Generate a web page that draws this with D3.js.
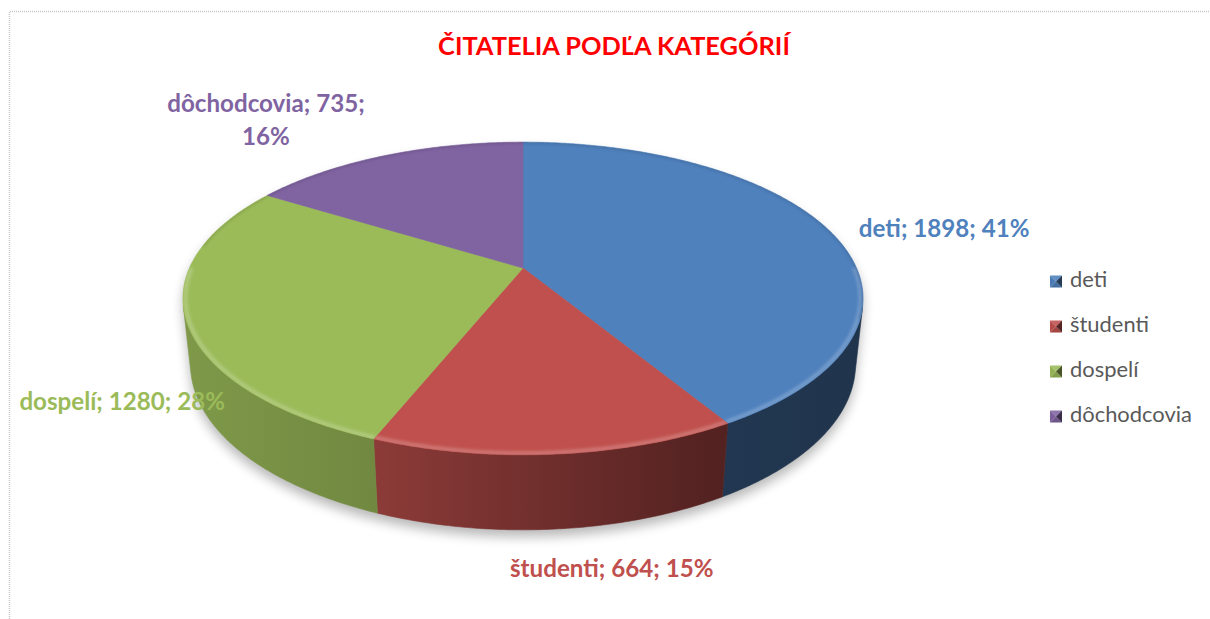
<!DOCTYPE html>
<html><head><meta charset="utf-8">
<script src="https://cdn.jsdelivr.net/npm/d3@7"></script>
<style>html,body{margin:0;padding:0;background:#fff;overflow:hidden;} svg{display:block;}</style>
</head><body>
<svg id="chart" width="1210" height="619"></svg>
<script>
// ---- data ----
const title = "ČITATELIA PODĽA KATEGÓRIÍ";
const categories = ["deti", "študenti", "dospelí", "dôchodcovia"];
const values = [1898, 664, 1280, 735];
const colors = ["#4f81bd", "#c0504d", "#9bbb59", "#8064a2"];

// ---- layout ----
const W = 1210, H = 619;
const svg = d3.select("#chart");
const cx = 523, cy = 268;
const s = 0.451, c = Math.sqrt(1 - s * s), D = 4.578, f = 1527, h = 0.222;
function proj(t, r, Y) {
  const X = r * Math.sin(t), Z = -r * Math.cos(t);
  const ys = Z * s - Y * c;
  const d = D - (Z * c + Y * s);
  return [cx + f * X / d, cy + f * ys / d];
}
function samples(t0, t1, step) {
  const n = Math.max(2, Math.ceil(Math.abs(t1 - t0) / step));
  return d3.range(n + 1).map(i => t0 + (t1 - t0) * i / n);
}
const line = d3.line();
const shade = (col, k) => { const q = d3.rgb(col); return d3.rgb(q.r * k, q.g * k, q.b * k).formatHex(); };
const lighten = (col, k) => d3.interpolateRgb(col, "#ffffff")(k);

const total = d3.sum(values);
const pct = d3.format(".0%");
const pie = d3.pie().sort(null).value(d => d);
const arcs = pie(values).map((a, i) => ({...a, cat: categories[i], color: colors[i], i}));

const defs = svg.append("defs");
defs.append("filter").attr("id", "shadow").attr("x", "-20%").attr("y", "-20%").attr("width", "140%").attr("height", "140%")
  .append("feGaussianBlur").attr("stdDeviation", 6);
defs.append("filter").attr("id", "soft").attr("x", "-10%").attr("y", "-10%").attr("width", "120%").attr("height", "120%")
  .append("feGaussianBlur").attr("stdDeviation", 1.4);

// visible wall angular range
const tv = Math.acos(-1 / (D * c));
const tv0 = tv, tv1 = 2 * Math.PI - tv;
const xLeft = proj(tv1, 1, 0)[0], xRight = proj(tv0, 1, 0)[0];

// shadow silhouette
const silTop = samples(tv0 - 0.02, tv1 + 0.02, 0.01).map(t => proj(t, 1, -h));
const silBack = samples(tv1, tv0 + 2 * Math.PI, 0.01).map(t => proj(t, 1, 0));
svg.append("path")
  .attr("d", line(silTop.concat(silBack)) + "Z")
  .attr("transform", "translate(0,7)")
  .attr("fill", "#000").attr("opacity", 0.28)
  .attr("filter", "url(#shadow)");

// wall gradients
arcs.forEach(a => {
  const g = defs.append("linearGradient").attr("id", "wall" + a.i)
    .attr("gradientUnits", "userSpaceOnUse")
    .attr("x1", xLeft).attr("x2", xRight).attr("y1", 0).attr("y2", 0);
  [[0, 0.82], [0.3, 0.72], [0.78, 0.43], [1, 0.40]].forEach(([o, k]) =>
    g.append("stop").attr("offset", o).attr("stop-color", shade(a.color, k)));
});

// walls
const gWalls = svg.append("g");
arcs.forEach(a => {
  const t0 = Math.max(a.startAngle, tv0), t1 = Math.min(a.endAngle, tv1);
  if (t1 <= t0) return;
  const top = samples(t0, t1, 0.01).map(t => proj(t, 1, 0));
  const bot = samples(t1, t0, 0.01).map(t => proj(t, 1, -h));
  gWalls.append("path").attr("d", line(top.concat(bot)) + "Z")
    .attr("fill", `url(#wall${a.i})`)
    .attr("stroke", `url(#wall${a.i})`).attr("stroke-width", 0.6);
});

// top faces
const gTops = svg.append("g");
arcs.forEach(a => {
  const pts = [proj(0, 0, 0)].concat(samples(a.startAngle, a.endAngle, 0.01).map(t => proj(t, 1, 0)));
  defs.append("clipPath").attr("id", "clipTop" + a.i)
    .append("path").attr("d", line(pts) + "Z");
  gTops.append("path").attr("d", line(pts) + "Z")
    .attr("fill", a.color).attr("stroke", a.color).attr("stroke-width", 0.6);
});

// bevel highlights on the rim
const gBevel = svg.append("g");
arcs.forEach(a => {
  const gi = gBevel.append("g").attr("clip-path", `url(#clipTop${a.i})`);
  const rimFront = samples(Math.max(a.startAngle, Math.PI * 0.5), Math.min(a.endAngle, Math.PI * 1.5), 0.01);
  if (rimFront.length > 1 && rimFront[rimFront.length - 1] > rimFront[0]) {
    gi.append("path").attr("d", line(rimFront.map(t => proj(t, 0.993, 0))))
      .attr("fill", "none").attr("stroke", lighten(a.color, 0.22)).attr("stroke-width", 4)
      .attr("filter", "url(#soft)");
  }
  const rimBack = samples(a.startAngle, a.endAngle, 0.01).filter(t => Math.cos(t) > 0.15 || (t > 0.3 && t < 1.9));
  if (rimBack.length > 1) {
    gi.append("path").attr("d", line(rimBack.map(t => proj(t, 1.0, 0))))
      .attr("fill", "none").attr("stroke", shade(a.color, 0.7)).attr("stroke-width", 2.5)
      .attr("opacity", 0.5).attr("filter", "url(#soft)");
  }
});

// ---- data labels ----
const labelLayout = [
  {anchor: "start",  r: 1, Y: 0,  dx: 30,   dy: 6.7,  lines: 1},
  {anchor: "middle", r: 1, Y: -h, dx: 56.4, dy: 47.7, lines: 1},
  {anchor: "end",    r: 1, Y: 0,  dx: 39.5, dy: 92,   lines: 1},
  {anchor: "middle", r: 1, Y: 0,  dx: -119.3, dy: -43.8, lines: 2}
];
const gLabels = svg.append("g").attr("font-family", "Lato, 'Open Sans', sans-serif").attr("font-weight", "bold");
const labelTexts = arcs.map((a, i) => {
  const L = labelLayout[i];
  const mid = (a.startAngle + a.endAngle) / 2;
  const p = proj(mid, L.r, L.Y);
  const parts = L.lines === 2
    ? [`${a.cat}; ${a.data};`, pct(a.data / total)]
    : [`${a.cat}; ${a.data}; ${pct(a.data / total)}`];
  const t = gLabels.append("text")
    .attr("text-anchor", L.anchor).attr("fill", a.color).attr("font-size", 20);
  parts.forEach((txt, k) => t.append("tspan").attr("x", p[0] + L.dx).attr("y", p[1] + L.dy + k * 33.3).text(txt));
  return t;
});
// size labels to match the reference width of the "dospelí" label
const refW = labelTexts[2].node().getComputedTextLength();
const lblSize = 20 * 205.7 / refW;
labelTexts.forEach(t => t.attr("font-size", lblSize));

// ---- legend ----
const ly = d3.scalePoint().domain(categories).range([281.5, 416.5]);
const gLeg = svg.append("g");
arcs.forEach(a => {
  const yc = ly(a.cat), x0 = 1050, x1 = 1062, y0 = yc - 6, y1 = yc + 6, xm = (x0 + x1) / 2;
  const tri = (pts, col) => gLeg.append("path").attr("d", line(pts) + "Z").attr("fill", col);
  tri([[x0, y0], [x1, y0], [xm, yc]], lighten(a.color, 0.1));
  tri([[x0, y1], [x1, y1], [xm, yc]], shade(a.color, 0.85));
  tri([[x0, y0], [x0, y1], [xm, yc]], shade(a.color, 0.95));
  tri([[x1, y0], [x1, y1], [xm, yc]], shade(a.color, 0.45));
  gLeg.append("text").attr("class", "legtxt").attr("x", 1070).attr("y", yc + 5.3)
    .attr("font-family", "Lato, 'Open Sans', sans-serif").attr("font-size", 18)
    .attr("fill", "#595959").text(a.cat);
});
const legNodes = gLeg.selectAll(".legtxt");
const wLong = legNodes.nodes()[3].getComputedTextLength();
legNodes.attr("font-size", 18 * 122 / wLong);

// ---- title ----
const tt = svg.append("text").attr("x", 614).attr("y", 55).attr("text-anchor", "middle")
  .attr("font-family", "Lato, 'Open Sans', sans-serif").attr("font-weight", "bold")
  .attr("font-size", 20).attr("fill", "#ff0000").text(title);
tt.attr("font-size", 20 * 352 / tt.node().getComputedTextLength());

// ---- border ----
svg.append("path").attr("d", `M9.5,${H} V11.5 H${W}`).attr("fill", "none")
  .attr("stroke", "#c8c8c8").attr("stroke-width", 1.5).attr("stroke-dasharray", "1,1");
</script>
</body></html>
